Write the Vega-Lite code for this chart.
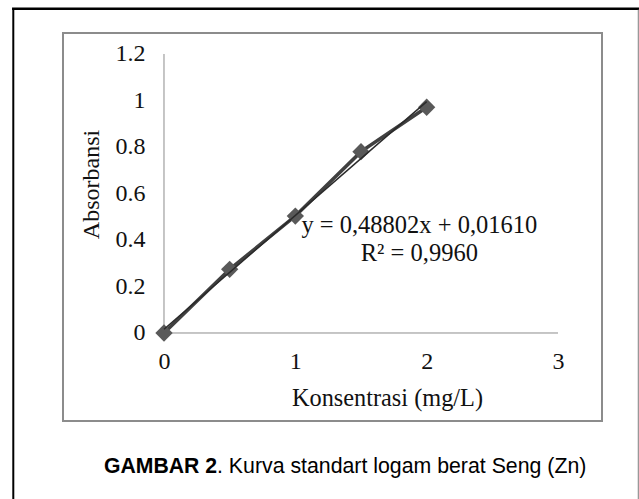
{
  "$schema": "https://vega.github.io/schema/vega-lite/v6.json",
  "width": 539,
  "height": 388,
  "autosize": {"type": "none"},
  "padding": {"left": 63, "top": 33, "right": 37, "bottom": 78},
  "background": "white",
  "config": {
    "view": {"stroke": "#8c8c8c", "strokeWidth": 2},
    "font": "Liberation Serif"
  },
  "datasets": {
    "points": [
      {"x": 0, "y": 0},
      {"x": 0.5, "y": 0.274},
      {"x": 1, "y": 0.503},
      {"x": 1.5, "y": 0.78},
      {"x": 2, "y": 0.971}
    ],
    "one": [{}]
  },
  "data": {"name": "points"},
  "layer": [
    {
      "mark": {"type": "line", "color": "#404040", "strokeWidth": 3.5},
      "encoding": {
        "x": {
          "field": "x",
          "type": "quantitative",
          "scale": {"domain": [-0.769, 3.335], "nice": false, "zero": false},
          "axis": {
            "values": [0, 1, 2, 3],
            "format": "~g",
            "offset": -88,
            "domain": false,
            "ticks": false,
            "grid": false,
            "labelFlush": false,
            "labelOverlap": false,
            "labelBound": false,
            "labelFont": "Liberation Serif",
            "labelFontSize": 24,
            "labelColor": "#111111",
            "labelPadding": 16,
            "title": "Konsentrasi (mg/L)",
            "titleFont": "Liberation Serif",
            "titleFontSize": 24.3,
            "titleFontWeight": "normal",
            "titleColor": "#111111",
            "titleX": 324,
            "titleY": 72,
            "titleAlign": "center",
            "titleBaseline": "alphabetic"
          }
        },
        "y": {
          "field": "y",
          "type": "quantitative",
          "scale": {"domain": [-0.3785, 1.2903], "nice": false, "zero": false},
          "axis": {
            "values": [0, 0.2, 0.4, 0.6, 0.8, 1, 1.2],
            "format": "~g",
            "offset": -101,
            "domain": false,
            "ticks": false,
            "grid": false,
            "labelFlush": false,
            "labelOverlap": false,
            "labelBound": false,
            "labelFont": "Liberation Serif",
            "labelFontSize": 24,
            "labelColor": "#111111",
            "labelPadding": 19,
            "title": "Absorbansi",
            "titleFont": "Liberation Serif",
            "titleFontSize": 24,
            "titleFontWeight": "normal",
            "titleColor": "#111111",
            "titleAngle": -90,
            "titleX": -66,
            "titleY": 151,
            "titleAlign": "center",
            "titleBaseline": "alphabetic"
          }
        }
      }
    },
    {
      "data": {"name": "one"},
      "mark": {"type": "rule", "color": "#8c8c8c", "strokeWidth": 1},
      "encoding": {"x": {"datum": 0}, "x2": {"datum": 3}, "y": {"datum": 0}}
    },
    {
      "data": {"name": "one"},
      "mark": {"type": "rule", "color": "#8c8c8c", "strokeWidth": 1},
      "encoding": {"x": {"datum": 0}, "y": {"datum": 0}, "y2": {"datum": 1.2}}
    },
    {
      "mark": {"type": "point", "shape": "diamond", "filled": true, "color": "#595959", "size": 300, "opacity": 1},
      "encoding": {
        "x": {"field": "x", "type": "quantitative"},
        "y": {"field": "y", "type": "quantitative"}
      }
    },
    {
      "transform": [{"regression": "y", "on": "x", "extent": [0, 2]}],
      "mark": {"type": "line", "color": "#2a2a2a", "strokeWidth": 1.5},
      "encoding": {
        "x": {"field": "x", "type": "quantitative"},
        "y": {"field": "y", "type": "quantitative"}
      }
    },
    {
      "data": {"name": "one"},
      "mark": {"type": "text", "font": "Liberation Serif", "fontSize": 24.5, "fontWeight": "normal", "align": "center", "baseline": "alphabetic", "lineHeight": 27.7, "color": "#111111"},
      "encoding": {
        "x": {"datum": 1.944},
        "y": {"datum": 0.4301},
        "text": {"value": ["y = 0,48802x + 0,01610", "R² = 0,9960"]}
      }
    },
    {
      "data": {"name": "one"},
      "mark": {"type": "text", "font": "Liberation Sans", "fontSize": 21.2, "fontWeight": "bold", "align": "right", "baseline": "alphabetic", "color": "#000000"},
      "encoding": {
        "x": {"datum": 0.4036},
        "y": {"datum": -0.602},
        "text": {"value": "GAMBAR 2"}
      }
    },
    {
      "data": {"name": "one"},
      "mark": {"type": "text", "font": "Liberation Sans", "fontSize": 21.3, "fontWeight": "normal", "align": "left", "baseline": "alphabetic", "color": "#000000"},
      "encoding": {
        "x": {"datum": 0.4036},
        "y": {"datum": -0.602},
        "text": {"value": ". Kurva standart logam berat Seng (Zn)"}
      }
    },
    {
      "data": {"name": "one"},
      "mark": {"type": "rule", "color": "#000000", "strokeWidth": 2.5},
      "encoding": {"x": {"datum": -1.157}, "x2": {"datum": 3.625}, "y": {"datum": 1.3948}}
    },
    {
      "data": {"name": "one"},
      "mark": {"type": "rule", "color": "#000000", "strokeWidth": 2},
      "encoding": {"x": {"datum": -1.1475}, "y": {"datum": 1.3948}, "y2": {"datum": -0.75}}
    },
    {
      "data": {"name": "one"},
      "mark": {"type": "rule", "color": "#999999", "strokeWidth": 2},
      "encoding": {"x": {"datum": 3.6145}, "y": {"datum": 1.39}, "y2": {"datum": -0.75}}
    }
  ]
}
